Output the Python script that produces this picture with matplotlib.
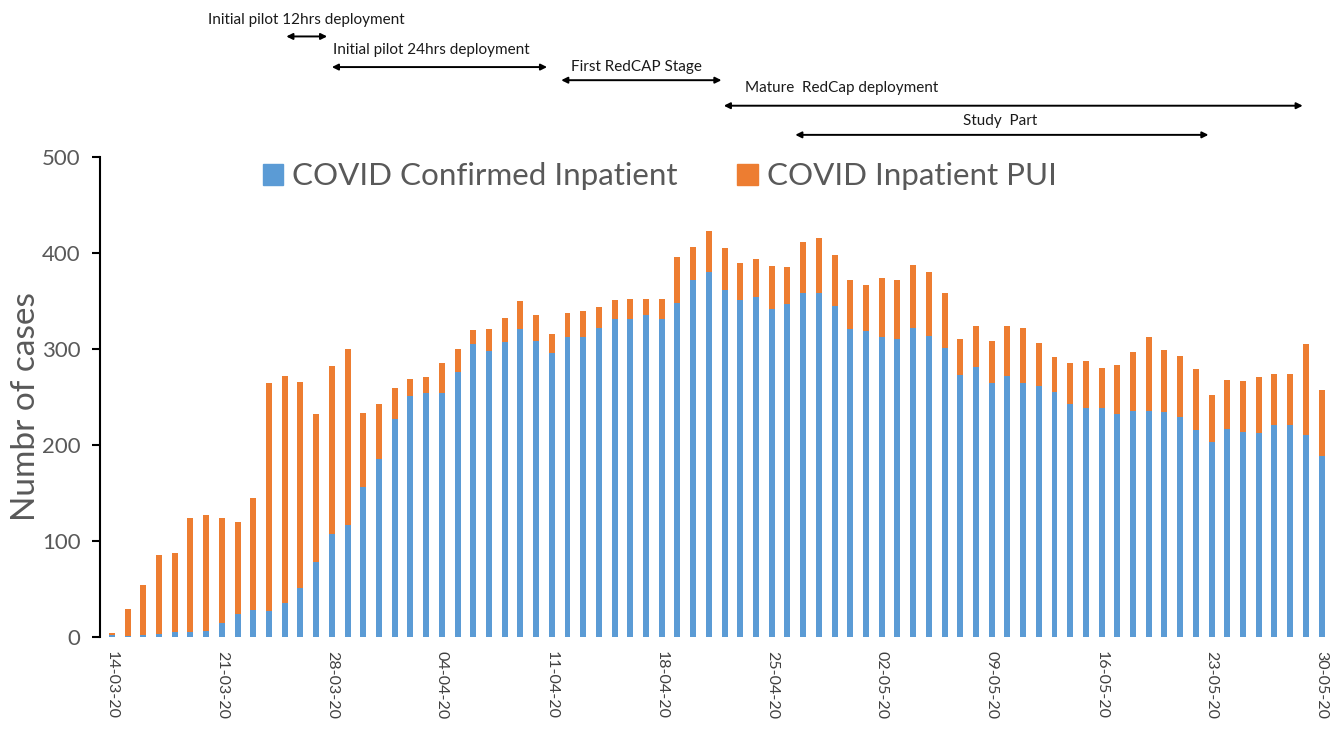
import matplotlib
matplotlib.use('Agg')
import matplotlib.pyplot as plt
import matplotlib.transforms as mtransforms
from matplotlib.patches import Patch
import numpy as np

plt.rcParams['font.family'] = ['Lato', 'DejaVu Sans']

# daily inpatient counts, 14-03-20 .. 30-05-20
confirmed = [2, 1, 2, 3, 5, 5, 6, 15, 24, 28, 27, 35, 51, 78, 107, 117, 156, 185, 227, 251,
             254, 254, 276, 305, 298, 307, 321, 308, 296, 313, 313, 322, 331, 331, 335, 331, 348, 372, 380, 361,
             351, 354, 342, 347, 358, 358, 345, 321, 319, 313, 310, 322, 314, 301, 273, 281, 265, 272, 265, 261,
             255, 243, 239, 239, 232, 235, 235, 234, 229, 216, 203, 217, 214, 212, 221, 221, 210, 189]
pui = [2, 28, 52, 82, 82, 119, 121, 109, 96, 117, 238, 237, 215, 154, 175, 183, 77, 58, 32, 18,
       17, 31, 24, 15, 23, 25, 29, 27, 20, 24, 27, 22, 20, 21, 17, 21, 48, 34, 43, 44,
       39, 40, 45, 38, 54, 58, 53, 51, 48, 61, 62, 66, 66, 57, 37, 43, 43, 52, 57, 45,
       37, 42, 48, 41, 51, 62, 78, 65, 64, 63, 49, 51, 53, 59, 53, 53, 95, 68]

tick_pos = [0, 7, 14, 21, 28, 35, 42, 49, 56, 63, 70, 77]
tick_labels = ['14-03-20', '21-03-20', '28-03-20', '04-04-20', '11-04-20', '18-04-20',
               '25-04-20', '02-05-20', '09-05-20', '16-05-20', '23-05-20', '30-05-20']

# project phases: label, start day index, end day index
phase_names = ['Initial pilot 12hrs deployment', 'Initial pilot 24hrs deployment',
               'First RedCAP Stage', 'Mature  RedCap deployment', 'Study  Part']
phase_start = [11.1, 14.0, 28.6, 38.95, 43.5]
phase_end = [13.7, 27.7, 38.8, 75.8, 69.8]

blue = '#5B9BD5'
orange = '#ED7D31'
grey = '#595959'

fig = plt.figure(figsize=(13.35, 7.29), dpi=100)
ax = fig.add_axes([0.0749, 0.1262, 0.9228, 0.6584])

x = np.arange(len(confirmed))
ax.bar(x, confirmed, width=0.38, color=blue)
ax.bar(x, pui, width=0.38, bottom=confirmed, color=orange)

ax.set_xlim(-0.76, 77.66)
ax.set_ylim(0, 500)
ax.set_yticks([0, 100, 200, 300, 400, 500])
ax.tick_params(axis='y', labelsize=16, labelcolor=grey, length=6, width=1.5, pad=8)
ax.set_xticks(tick_pos)
ax.set_xticklabels(tick_labels, rotation=270, fontsize=11.5, color='#404040')
ax.tick_params(axis='x', length=0, pad=10)
for side in ['top', 'right', 'bottom']:
    ax.spines[side].set_visible(False)
ax.spines['left'].set_linewidth(1.5)
ax.set_ylabel('Numbr of cases', fontsize=24, color=grey)
ax.yaxis.set_label_coords(-0.048, 0.48)

handles = [Patch(color=blue, label='COVID Confirmed Inpatient'),
           Patch(color=orange, label='COVID Inpatient PUI')]
ax.legend(handles=handles, loc='upper left', bbox_to_anchor=(0.109, 1.048), ncol=2,
          frameon=False, fontsize=22.6, labelcolor=grey, handlelength=0.65, handleheight=0.65,
          handletextpad=0.3, columnspacing=1.9)

# phase arrows above the plot
trans = mtransforms.blended_transform_factory(ax.transData, fig.transFigure)
text_y = [0.972, 0.931, 0.908, 0.879, 0.834]
arrow_y = [0.950, 0.908, 0.890, 0.855, 0.815]
text_x = [6.1, 14.1, 29.2, 40.3, 54.2]
for name, s, e, ty, ay, tx in zip(phase_names, phase_start, phase_end, text_y, arrow_y, text_x):
    ax.annotate('', xy=(e, ay), xytext=(s, ay), xycoords=trans, textcoords=trans,
                arrowprops=dict(arrowstyle='<|-|>', color='black', lw=1.4,
                                mutation_scale=9, shrinkA=0, shrinkB=0),
                annotation_clip=False)
    ax.text(tx, ty, name, transform=trans, fontsize=11, color='#1a1a1a',
            ha='left', va='center')

fig.savefig('out.png', dpi=100)
